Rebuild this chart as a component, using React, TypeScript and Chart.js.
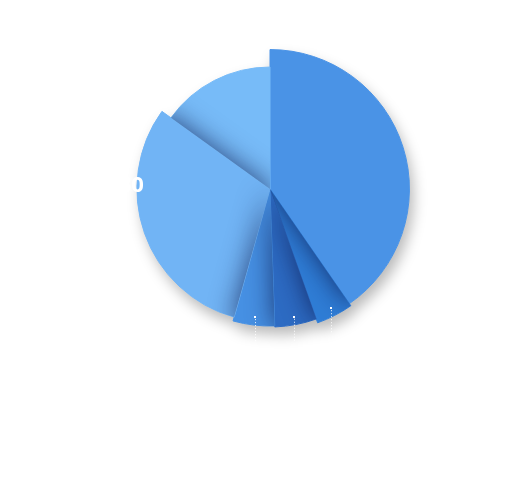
import React, { useEffect, useRef } from "react";
import { Chart, registerables } from "chart.js";

Chart.register(...registerables);

// ---- data ----
const categories = ["A", "B", "C", "D", "E", "F"];
const shareValues = [40.4, 4.2, 4.9, 4.9, 30.6, 15.1];
// second measure driving the slice radius (relative, max = 100)
const depthValues = [98.2, 100, 97.2, 96.5, 93.7, 85.9];
const valueLabels = ["40", "4", "5", "5", "30", "15"];
const sliceColors = ["#4A93E6", "#2F7DD6", "#2D6BC3", "#4690E3", "#71B4F5", "#77BBF8"];

function sectorPath(ctx: CanvasRenderingContext2D, arc: any, dx = 0, dy = 0) {
  ctx.moveTo(arc.x + dx, arc.y + dy);
  ctx.arc(arc.x + dx, arc.y + dy, arc.outerRadius, arc.startAngle, arc.endAngle);
  ctx.closePath();
}

const FAR = 5000;

const rosePlugin = {
  id: "roseDepth",
  afterDatasetsUpdate(chart: any) {
    const meta = chart.getDatasetMeta(0);
    const maxDepth = Math.max(...depthValues);
    meta.data.forEach((arc: any, i: number) => {
      arc.outerRadius = (arc.outerRadius * depthValues[i]) / maxDepth;
    });
  },
  beforeDatasetDraw(chart: any, args: any) {
    const ctx: CanvasRenderingContext2D = chart.ctx;
    const data = args.meta.data;
    // outer drop shadow (down-right)
    ctx.save();
    ctx.shadowColor = "rgba(0,0,0,0.28)";
    ctx.shadowBlur = 14;
    ctx.shadowOffsetX = 4;
    ctx.shadowOffsetY = 8;
    ctx.fillStyle = "#ffffff";
    ctx.beginPath();
    data.forEach((el: any) => sectorPath(ctx, el));
    ctx.fill();
    ctx.restore();
    // plain slices
    data.forEach((el: any) => el.draw(ctx, chart.chartArea));
    // each slice casts a soft shadow onto its clockwise neighbour
    for (let k = 0; k < data.length - 1; k++) {
      const src = data[k];
      const dst = data[k + 1];
      ctx.save();
      ctx.beginPath();
      sectorPath(ctx, dst);
      ctx.clip();
      ctx.shadowColor = "rgba(10,20,70,0.72)";
      ctx.shadowBlur = 26;
      ctx.shadowOffsetX = FAR;
      ctx.shadowOffsetY = 0;
      ctx.fillStyle = "#000000";
      ctx.beginPath();
      sectorPath(ctx, src, -FAR, 0);
      ctx.fill();
      ctx.restore();
    }
    return false;
  },
  afterDatasetsDraw(chart: any) {
    const ctx = chart.ctx;
    const meta = chart.getDatasetMeta(0);
    ctx.save();
    meta.data.forEach((arc: any, i: number) => {
      const span = arc.endAngle - arc.startAngle;
      const mid = (arc.startAngle + arc.endAngle) / 2;
      // leader lines for the narrow slices
      if (span < Math.PI / 6) {
        const r = arc.outerRadius - 8;
        const sx = arc.x + Math.cos(mid) * r;
        const sy = arc.y + Math.sin(mid) * r;
        ctx.fillStyle = "#ffffff";
        ctx.fillRect(Math.round(sx) - 1, Math.round(sy) - 1, 2, 2);
        ctx.strokeStyle = "rgba(255,255,255,0.9)";
        ctx.lineWidth = 1;
        ctx.setLineDash([1, 2]);
        ctx.beginPath();
        ctx.moveTo(Math.round(sx) + 0.5, sy + 2);
        ctx.lineTo(Math.round(sx) + 0.5, sy + 24);
        ctx.stroke();
      }
      // white value labels outside the pie
      ctx.setLineDash([]);
      ctx.fillStyle = "#ffffff";
      ctx.font = "bold 22px 'Open Sans', sans-serif";
      ctx.textBaseline = "middle";
      const cosM = Math.cos(mid);
      if (i === 4) {
        ctx.textAlign = "right";
        ctx.fillText(valueLabels[i], arc.x - arc.outerRadius + 7, arc.y - 3);
      } else {
        ctx.textAlign = cosM >= 0 ? "left" : "right";
        const lx = arc.x + cosM * (arc.outerRadius + 30);
        const ly = arc.y + Math.sin(mid) * (arc.outerRadius + 30);
        ctx.fillText(valueLabels[i], lx, ly);
      }
    });
    ctx.restore();
  },
};

export default function App() {
  const ref = useRef<HTMLCanvasElement | null>(null);
  useEffect(() => {
    if (!ref.current) return;
    const chart = new Chart(ref.current, {
      type: "pie",
      data: {
        labels: categories,
        datasets: [
          {
            data: shareValues,
            backgroundColor: sliceColors,
            borderColor: sliceColors,
            borderWidth: 1,
          },
        ],
      },
      options: {
        animation: false,
        responsive: true,
        maintainAspectRatio: false,
        radius: 142,
        layout: { padding: { left: 12, right: 0, top: 0, bottom: 105 } },
        plugins: {
          legend: { display: false },
          tooltip: { enabled: false },
        },
      } as any,
      plugins: [rosePlugin as any],
    });
    return () => chart.destroy();
  }, []);
  return (
    <div style={{ position: "fixed", left: 0, top: 0, width: 528, height: 483, background: "#ffffff" }}>
      <canvas ref={ref} />
    </div>
  );
}
